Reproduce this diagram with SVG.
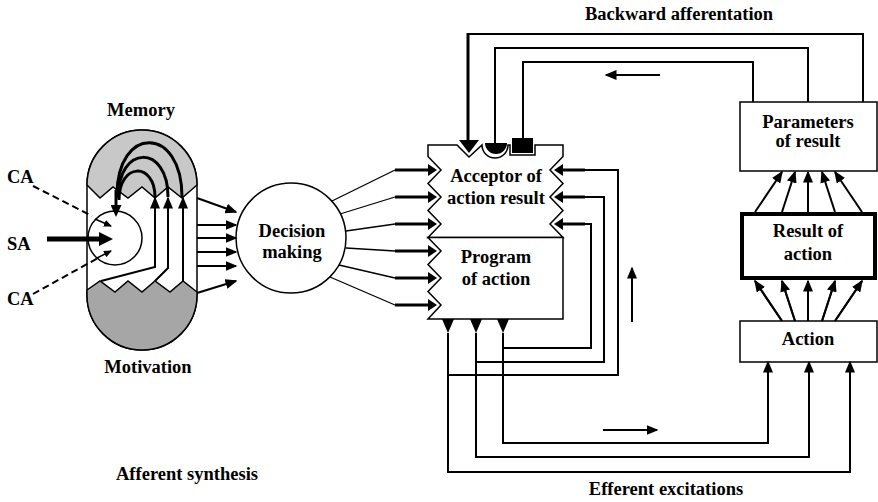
<svg xmlns="http://www.w3.org/2000/svg" width="878" height="502" viewBox="0 0 878 502">
<style>
.t{font-family:"Liberation Serif","Times New Roman",serif;font-weight:bold;font-size:18.5px;text-anchor:middle;fill:#000}
.s{text-anchor:start}
.ln{fill:none;stroke:#000;stroke-width:2}
.th{fill:none;stroke:#000;stroke-width:1.3}
.tk{fill:none;stroke:#000;stroke-width:3}
.box{fill:#fff;stroke:#000;stroke-width:1.5}
.ma{marker-end:url(#a)}
</style>
<defs>
<marker id="a" viewBox="0 0 12 10" refX="10.5" refY="5" markerWidth="12" markerHeight="10" markerUnits="userSpaceOnUse" orient="auto"><path d="M0,0 L12,5 L0,10 Z" fill="#000"/></marker>
<marker id="ab" viewBox="0 0 12 11" refX="1" refY="5.5" markerWidth="12" markerHeight="11" markerUnits="userSpaceOnUse" orient="auto"><path d="M0,0 L12,5.5 L0,11 Z" fill="#000"/></marker>
<marker id="asa" viewBox="0 0 14 14" refX="7" refY="7" markerWidth="14" markerHeight="14" markerUnits="userSpaceOnUse" orient="auto"><path d="M0,0 L14,7 L0,14 Z" fill="#000"/></marker>
<marker id="as" viewBox="0 0 8 7" refX="7" refY="3.5" markerWidth="8" markerHeight="7" markerUnits="userSpaceOnUse" orient="auto"><path d="M0,0 L8,3.5 L0,7 Z" fill="#000"/></marker>
<marker id="at" viewBox="0 0 9 12" refX="2" refY="6" markerWidth="9" markerHeight="12" markerUnits="userSpaceOnUse" orient="auto"><path d="M0,0 L9,6 L0,12 Z" fill="#000"/></marker>
</defs>
<rect width="878" height="502" fill="#fff"/>

<g id="afferent-synthesis">
<path d="M87,185 A55,55 0 0 1 197,185 L197,295 A55,55 0 0 1 87,295 Z" class="box"/>
<path d="M87,185 A55,55 0 0 1 197,185 L182,198 L168,187 L155,198 L142,187 L128,198 L113,187 L100,198 Z" fill="#c8c8c8" stroke="#000" stroke-width="1.5"/>
<path d="M87,290 L100,281 L115,292 L128,281 L142,292 L155,281 L170,292 L183,281 L197,292 L197,295 A55,55 0 0 1 87,295 Z" fill="#a6a6a6" stroke="#000" stroke-width="1.5"/>
<circle cx="115" cy="238" r="27" class="box"/>
<path d="M101,281 L155,267 L155,198" class="ln ma"/>
<path d="M155,281 L168,268 L168,198" class="ln ma"/>
<path d="M183,281 L183,198" class="ln ma"/>
<path d="M182,197 C182,125 117,125 117,195" class="tk"/>
<path d="M168,197 C168,144 118,144 118,198" class="tk"/>
<path d="M155,197 C155,162 119,162 119,200" class="tk"/>
<path d="M116,190 L116,206" class="tk" marker-end="url(#ab)"/>
<path d="M33,186 L92,216" class="ln" stroke-dasharray="7,4"/>
<path d="M95,219 L111,226" fill="none" stroke="#000" stroke-width="1.5" marker-end="url(#as)"/>
<path d="M33,294 L98,258" class="ln" stroke-dasharray="7,4"/>
<path d="M97,258 L111,251" fill="none" stroke="#000" stroke-width="1.5" marker-end="url(#as)"/>
<path d="M47,239 L106,239" fill="none" stroke="#000" stroke-width="5" marker-end="url(#asa)"/>
<text class="t" x="141" y="116">Memory</text>
<text class="t s" x="7" y="183">CA</text>
<text class="t s" x="7" y="250">SA</text>
<text class="t s" x="7" y="305">CA</text>
<text class="t" x="148" y="373">Motivation</text>
<text class="t" x="187" y="480">Afferent synthesis</text>
</g>

<g id="decision-making">
<circle cx="291" cy="238" r="55" class="box"/>
<text class="t" x="292" y="237">Decision</text>
<text class="t" x="292" y="258">making</text>
</g>

<g id="acceptor">
<path d="M428,145 L457,145 L469,157 L482,145 A13,13 0 0 0 508,145 L510,145 L510,155 L535,155 L535,145 L563,145 L563,156.5 L550,170 L563,183.5 L550,197 L563,210.5 L550,224 L563,237.5 L428,237.5 L441,224 L428,210.5 L441,197 L428,183.5 L441,170 L428,156.5 Z" class="box"/>
<text class="t" x="496" y="182">Acceptor of</text>
<text class="t" x="496" y="204">action result</text>
</g>

<g id="program">
<path d="M428,237.5 L563,237.5 L563,319 L428,319 L441,305 L428,291.5 L441,278 L428,264.5 L441,251 L428,237.5 Z" class="box"/>
<text class="t" x="496" y="263">Program</text>
<text class="t" x="496" y="285">of action</text>
</g>

<g id="parameters">
<rect x="740" y="102" width="137" height="69" class="box"/>
<text class="t" x="808" y="128">Parameters</text>
<text class="t" x="808" y="147">of result</text>
</g>

<g id="result">
<rect x="742" y="214" width="133" height="64" fill="#fff" stroke="#000" stroke-width="4"/>
<text class="t" x="808" y="237">Result of</text>
<text class="t" x="808" y="260">action</text>
</g>

<g id="action">
<rect x="740" y="321" width="137" height="41" class="box"/>
<text class="t" x="808" y="345">Action</text>
</g>

<g id="connectors">
<path d="M197,198 L236,212" class="ln ma"/>
<path d="M197,225 L236,225" class="ln ma"/>
<path d="M197,238 L236,238" class="ln ma"/>
<path d="M197,252 L236,252" class="ln ma"/>
<path d="M197,266 L236,266" class="ln ma"/>
<path d="M197,293 L236,281" class="ln ma"/>

<path d="M332,201 L395,170 M340,214 L395,197 M346,231 L395,224 M346,248 L395,251 M339,265 L395,278 M330,277 L395,305" class="th"/>
<g class="tk" marker-end="url(#at)">
<path d="M395,170 L430,170"/>
<path d="M395,197 L430,197"/>
<path d="M395,224 L430,224"/>
<path d="M395,251 L430,251"/>
<path d="M395,278 L430,278"/>
<path d="M395,305 L430,305"/>
<path d="M585,170 L561,170"/>
<path d="M585,197 L561,197"/>
<path d="M585,224 L561,224"/>
</g>

<path d="M448,375 L618,375 L618,170 L585,170" class="ln" stroke-width="1.5"/>
<path d="M476,362 L604,362 L604,197 L585,197" class="ln" stroke-width="1.5"/>
<path d="M503,348 L591,348 L591,224 L585,224" class="ln" stroke-width="1.5"/>

<path d="M442,319 L454,319 L448,333 Z M470,319 L482,319 L476,333 Z M497,319 L509,319 L503,333 Z" fill="#000"/>
<path d="M448,333 L448,472 L850,472 L850,362" class="ln ma" stroke-width="2.2"/>
<path d="M476,333 L476,457 L809,457 L809,362" class="ln ma" stroke-width="2.2"/>
<path d="M503,333 L503,443 L768,443 L768,362" class="ln ma" stroke-width="2.2"/>

<path d="M782,321 L755,281 M795,321 L782,281 M808,321 L808,281 M822,321 L835,281 M835,321 L862,281" class="ln"/>
<g class="ln ma">
<path d="M782,321 L755,281"/>
<path d="M795,321 L782,281"/>
<path d="M808,321 L808,281"/>
<path d="M822,321 L835,281"/>
<path d="M835,321 L862,281"/>
<path d="M755,212 L782,172"/>
<path d="M782,212 L795,172"/>
<path d="M808,212 L808,172"/>
<path d="M835,212 L822,172"/>
<path d="M862,212 L835,172"/>
</g>

<path d="M863,102 L863,34 L468,34" class="ln"/>
<path d="M468,33 L468,141" class="tk"/>
<path d="M459,140 L479,140 L469,153 Z" fill="#000"/>
<path d="M808,102 L808,48 L495,48 L495,144" class="ln"/>
<path d="M485,143 A11,11 0 0 0 507,143 Z" fill="#000"/>
<path d="M753,102 L753,62 L523,62 L523,139" class="ln"/>
<rect x="512" y="138" width="21" height="15" fill="#000"/>

<path d="M660,75 L606,75" class="ln ma"/>
<path d="M632,322 L632,268" class="ln ma"/>
<path d="M603,430 L657,430" class="ln ma"/>

<text class="t" x="679" y="20">Backward afferentation</text>
<text class="t" x="666" y="495">Efferent excitations</text>
</g>
</svg>
